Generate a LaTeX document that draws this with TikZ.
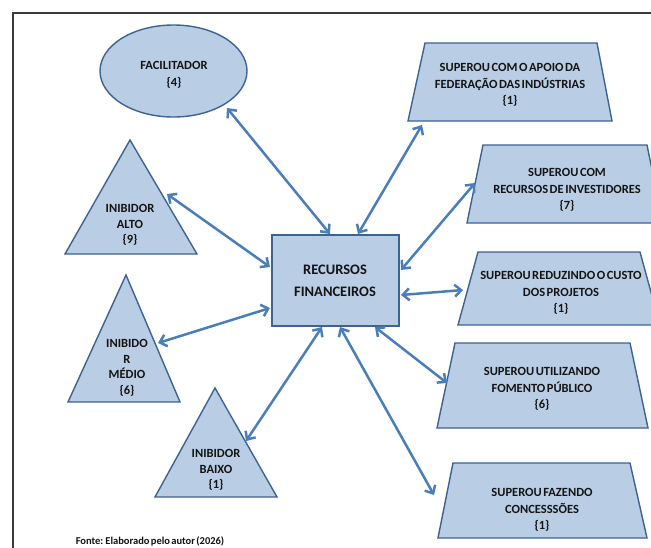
\documentclass[tikz,border=0pt]{standalone}
\usepackage{fontspec}
\setmainfont{Carlito}[WordSpace=0.55]
\usetikzlibrary{arrows.meta,shapes.geometric}
\definecolor{shapefill}{HTML}{B9CDE5}
\definecolor{shapeline}{HTML}{3D6391}
\definecolor{arrowc}{HTML}{4A7EBB}
\definecolor{framec}{HTML}{3A3A3A}
\begin{document}
\begin{tikzpicture}[x=1pt,y=-1pt,
  shp/.style={fill=shapefill, draw=shapeline, line width=1.4pt, line join=miter},
  lbl/.style={font=\bfseries\fontsize{12.5}{16.5}\selectfont, align=center, text=black!92, inner sep=0pt},
  bigl/.style={font=\bfseries\fontsize{14.5}{21.5}\selectfont, align=center, text=black!92, inner sep=0pt},
  tril/.style={font=\bfseries\fontsize{12.5}{15.5}\selectfont, align=center, text=black!92, inner sep=0pt},
  arr/.style={draw=arrowc, line width=2.5pt,
    {Straight Barb[length=6.5pt,width=12pt]}-{Straight Barb[length=6.5pt,width=12pt]}}]
\useasboundingbox (0,0) rectangle (651,547);
\clip (0,0) rectangle (651,547);
\fill[white] (0,0) rectangle (651,547);
% frame
\draw[framec, line width=2pt] (13,560) -- (13,13) -- (670,13);

% central box
\node[shp, minimum width=127pt, minimum height=91pt, inner sep=0pt] (rf) at (335.5,280.5) {};
\node[bigl] (rfT) at (335,281) {RECURSOS\\FINANCEIROS};

% ellipse
\node[shp, ellipse, minimum width=147pt, minimum height=92pt, inner sep=0pt] (fac) at (173.5,71) {};
\node[lbl] (facT) at (174,75) {FACILITADOR\\\{4\}};

% triangles
\draw[shp] (130,140) coordinate (altoA) -- (197,254) -- (65,254) -- cycle;
\node[tril] (altoT) at (130,225) {INIBIDOR\\ALTO\\\{9\}};
\draw[shp] (126,275) coordinate (medA) -- (180,402) -- (68,402) -- cycle;
\node[tril] (medT) at (127,368) {INIBIDO\\R\\MÉDIO\\\{6\}};
\draw[shp] (215,388) coordinate (baiA) -- (277,497) -- (155,497) -- cycle;
\node[tril] (baiT) at (216,470) {INIBIDOR\\BAIXO\\\{1\}};

% trapezoids
\draw[shp] (425,43) -- (597,43) -- (612,121) -- (408,121) -- cycle;
\node[lbl] (t1T) at (510,85) {SUPEROU COM O APOIO DA\\FEDERAÇÃO DAS INDÚSTRIAS\\\{1\}};
\draw[shp] (483,145) -- (647,145) -- (663,223) -- (467,223) -- cycle;
\node[lbl] (t2T) at (567,190) {SUPEROU COM\\RECURSOS DE INVESTIDORES\\\{7\}};
\draw[shp] (478,252) -- (640,252) -- (660,325) -- (458,325) -- cycle;
\node[lbl] (t3T) at (561,293) {SUPEROU REDUZINDO O CUSTO\\DOS PROJETOS\\\{1\}};
\draw[shp] (455,343) -- (630,343) -- (648,428) -- (437,428) -- cycle;
\node[lbl] (t4T) at (542,389) {SUPEROU UTILIZANDO\\FOMENTO PÚBLICO\\\{6\}};
\draw[shp] (453,463) -- (630,463) -- (647,538) -- (438,538) -- cycle;
\node[lbl] (t5T) at (542,510) {SUPEROU FAZENDO\\CONCESSSÕES\\\{1\}};

% connector end points
\coordinate (facE) at (227,108);   \coordinate (rfTop1) at (330,234);
\coordinate (t1E) at (422,125);    \coordinate (rfTop2) at (358,234);
\coordinate (altoE) at (167,194);  \coordinate (rfL1) at (270,267);
\coordinate (medE) at (158,343);   \coordinate (rfL2) at (270,308);
\coordinate (baiE) at (246,441);   \coordinate (rfB1) at (322,327);
\coordinate (t2E) at (475,183);    \coordinate (rfR1) at (401,270);
\coordinate (t3E) at (463,290);    \coordinate (rfR2) at (401,295);
\coordinate (t4E) at (447,383);    \coordinate (rfB3) at (375,327);
\coordinate (t5E) at (434,495);    \coordinate (rfB2) at (340,327);

\draw[arr] (facE) -- (rfTop1);
\draw[arr] (t1E) -- (rfTop2);
\draw[arr] (altoE) -- (rfL1);
\draw[arr] (medE) -- (rfL2);
\draw[arr] (baiE) -- (rfB1);
\draw[arr] (t2E) -- (rfR1);
\draw[arr] (t3E) -- (rfR2);
\draw[arr] (t4E) -- (rfB3);
\draw[arr] (t5E) -- (rfB2);

\node[font=\bfseries\fontsize{10.5}{12}\selectfont, text=black!92, inner sep=0pt] (fonte) at (150,541) {Fonte: Elaborado pelo autor (2026)};
\end{tikzpicture}
\end{document}
